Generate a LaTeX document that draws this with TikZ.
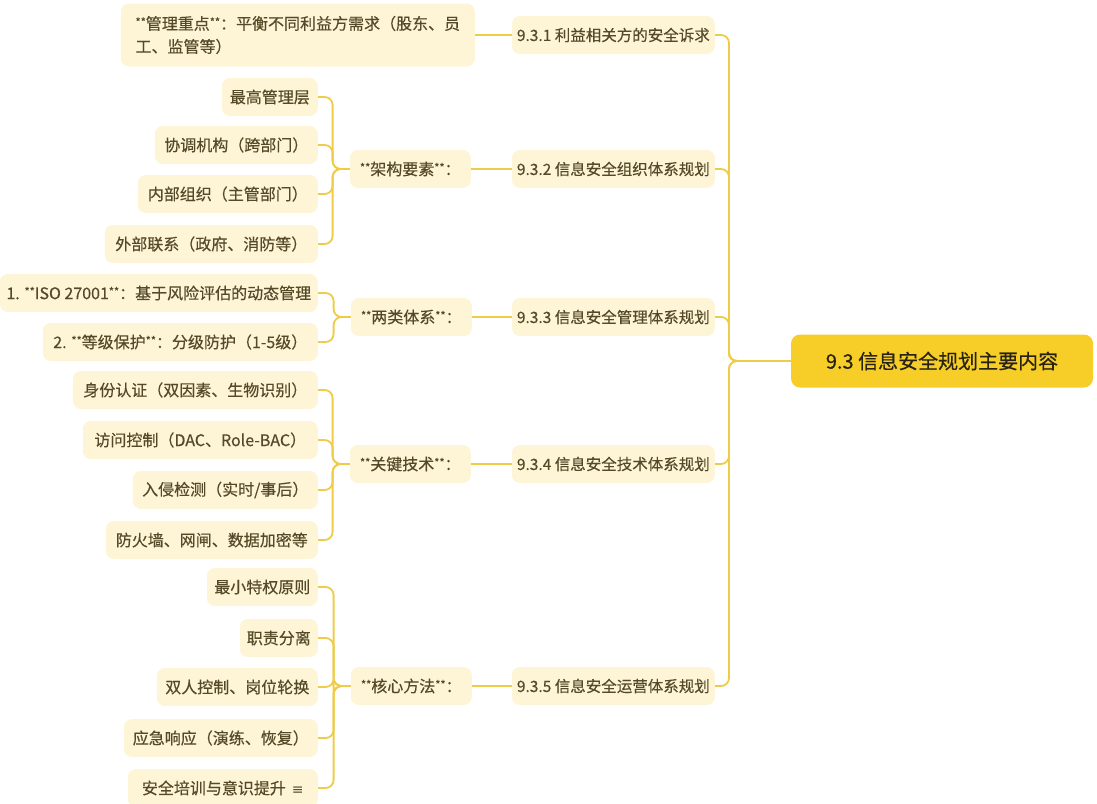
\documentclass[tikz,border=0pt]{standalone}
\usepackage{fontspec}
\newfontfamily\cjk[FakeBold=0.35]{Noto Sans CJK SC}
\newfontfamily\dejavu{DejaVu Sans}
\usetikzlibrary{calc}
\newcommand\stars{\raisebox{3.5pt}{\fontsize{11}{11}\selectfont **}}
\definecolor{cream}{RGB}{253,245,214}
\definecolor{gold}{RGB}{238,204,72}
\definecolor{rootfill}{RGB}{247,206,40}
\definecolor{txt}{RGB}{84,74,40}
\definecolor{roottxt}{RGB}{40,34,18}
\tikzset{
  box/.style={fill=cream, draw=none, rounded corners=8pt, minimum height=38pt, inner xsep=5pt, inner ysep=4pt,
    font=\cjk\fontsize{16}{23}\selectfont, text=txt, align=center},
  lone/.style={box, font=\cjk\fontsize{15.5}{21}\selectfont},
  rootbox/.style={fill=rootfill, draw=none, rounded corners=9pt, minimum height=53pt, minimum width=302pt,
    font=\cjk\fontsize{20}{24}\selectfont, text=roottxt},
  conn/.style={draw=gold, line width=1.8pt, rounded corners=8pt},
}
\begin{document}
\begin{tikzpicture}[x=1pt,y=-1pt]
\useasboundingbox (0,0) rectangle (1097,803);
% root
\node[rootbox] (root) at (942,361) {9.3 信息安全规划主要内容};
\coordinate (tr) at (729,361);
% level 1
\node[lone, minimum width=190pt, anchor=east] (a1) at (715,35) {9.3.1 利益相关方的安全诉求};
\node[lone, minimum width=192pt, anchor=east] (a2) at (715,169) {9.3.2 信息安全组织体系规划};
\node[lone, minimum width=192pt, anchor=east] (a3) at (715,317) {9.3.3 信息安全管理体系规划};
\node[lone, minimum width=192pt, anchor=east] (a4) at (715,464) {9.3.4 信息安全技术体系规划};
\node[lone, minimum width=192pt, anchor=east] (a5) at (715,686) {9.3.5 信息安全运营体系规划};
% level 2
\node[box, minimum width=354pt, minimum height=63pt, anchor=east, align=left] (b1) at (475,35)
  {\stars 管理重点\stars ：平衡不同利益方需求（股东、员\\工、监管等）};
\node[box, minimum width=121pt, anchor=east] (b2) at (471,169) {\stars 架构要素\stars ：};
\node[box, minimum width=121pt, anchor=east] (b3) at (472,317) {\stars 两类体系\stars ：};
\node[box, minimum width=121pt, anchor=east] (b4) at (471,464) {\stars 关键技术\stars ：};
\node[box, minimum width=121pt, anchor=east] (b5) at (472,686) {\stars 核心方法\stars ：};
% level 3
\node[box, minimum width=96pt, anchor=east] (c21) at (318,97) {最高管理层};
\node[box, minimum width=163pt, anchor=east] (c22) at (318,145) {协调机构（跨部门）};
\node[box, minimum width=180pt, anchor=east] (c23) at (318,194) {内部组织（主管部门）};
\node[box, minimum width=213pt, anchor=east] (c24) at (318,244) {外部联系（政府、消防等）};
\node[box, minimum width=318pt, anchor=east] (c31) at (318,293) {1. \stars ISO 27001\stars ：基于风险评估的动态管理};
\node[box, minimum width=275pt, anchor=east] (c32) at (318,342) {2. \stars 等级保护\stars ：分级防护（1-5级）};
\node[box, minimum width=245pt, anchor=east] (c41) at (318,390) {身份认证（双因素、生物识别）};
\node[box, minimum width=235pt, anchor=east] (c42) at (318,440) {访问控制（DAC、Role-BAC）};
\node[box, minimum width=185pt, anchor=east] (c43) at (318,490) {入侵检测（实时/事后）};
\node[box, minimum width=212pt, anchor=east] (c44) at (318,540) {防火墙、网闸、数据加密等};
\node[box, minimum width=111pt, anchor=east] (c51) at (318,587) {最小特权原则};
\node[box, minimum width=78pt, anchor=east] (c52) at (318,638) {职责分离};
\node[box, minimum width=161pt, anchor=east] (c53) at (318,687) {双人控制、岗位轮换};
\node[box, minimum width=194pt, anchor=east] (c54) at (318,738) {应急响应（演练、恢复）};
\node[box, minimum width=190pt, anchor=east] (c55) at (318,788) {安全培训与意识提升\hspace{6pt}{\dejavu\fontsize{14}{16}\selectfont ≡}};
% trunk connectors
\foreach \n in {a1,a2,a3,a4,a5} \draw[conn] (\n.east) -| (tr) -- (root.west);
% level1 - level2
\foreach \i in {1,...,5} \draw[conn] (b\i.east) -- (a\i.west);
% brackets
\coordinate (k2) at ([xshift=-17pt]b2.west);
\coordinate (k3) at ([xshift=-17pt]b3.west);
\coordinate (k4) at ([xshift=-17pt]b4.west);
\coordinate (k5) at ([xshift=-17pt]b5.west);
\foreach \j in {1,...,4} \draw[conn] (c2\j.east) -| (k2) -- (b2.west);
\foreach \j in {1,2} \draw[conn] (c3\j.east) -| (k3) -- (b3.west);
\foreach \j in {1,...,4} \draw[conn] (c4\j.east) -| (k4) -- (b4.west);
\foreach \j in {1,...,5} \draw[conn] (c5\j.east) -| (k5) -- (b5.west);
\end{tikzpicture}
\end{document}
